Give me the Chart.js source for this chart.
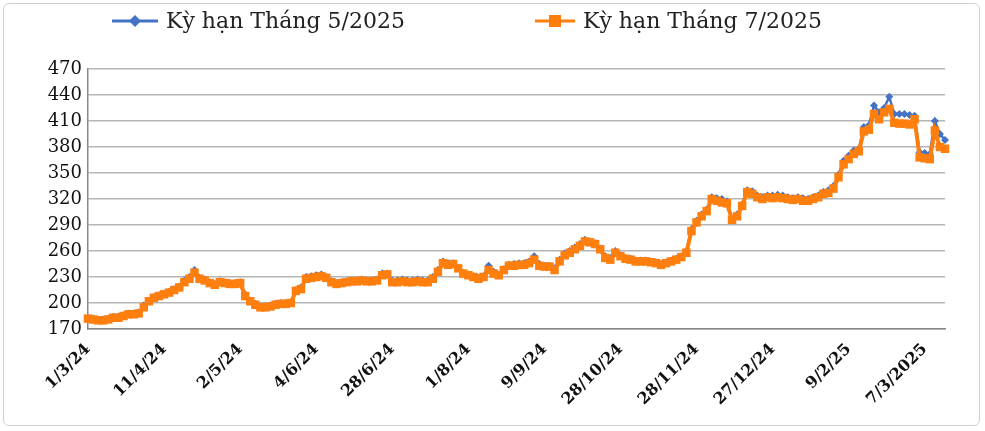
<!DOCTYPE html>
<html>
<head>
<meta charset="utf-8">
<script src="https://cdn.jsdelivr.net/npm/chart.js@4/dist/chart.umd.min.js"></script>
<style>
  body { margin: 0; background: #fff; }
  #wrap { width: 985px; height: 431px; position: relative; }
  #frame { position: absolute; left: 3px; top: 3px; width: 977px; height: 423px; border: 1px solid #d0d0d0; border-radius: 6px; box-sizing: border-box; }
</style>
</head>
<body>
<div id="wrap">
  <div id="frame"></div>
  <canvas id="chart" width="985" height="431"></canvas>
</div>
<script>
const seriesNames = ["Kỳ hạn Tháng 5/2025", "Kỳ hạn Tháng 7/2025"];
const tickLabels = ["1/3/24", "11/4/24", "2/5/24", "4/6/24", "28/6/24", "1/8/24", "9/9/24", "28/10/24", "28/11/24", "27/12/24", "9/2/25", "7/3/2025"];
const tickEvery = 15;

const july = [
  182,181,180,180,181,183,183,185,187,187,188,195,202,206,208,210,212,215,218,224,
  228,235,228,226,223,221,224,223,222,222,223,208,202,198,195,195,196,198,199,199,
  200,214,216,228,229,230,231,229,224,222,223,224,225,225,226,225,225,226,232,233,
  224,224,225,224,224,225,224,224,228,236,246,244,245,240,234,232,230,228,230,238,
  234,232,238,243,243,244,244,246,250,243,242,242,238,248,255,258,262,266,271,270,
  268,262,252,250,258,254,251,250,248,248,248,247,246,244,246,248,250,253,258,283,
  293,300,306,320,318,316,315,296,300,312,328,326,322,320,322,321,322,321,320,319,
  320,318,318,320,322,326,327,332,345,360,366,372,375,398,400,418,412,420,424,408,
  407,407,406,412,368,367,366,399,380,378
];
const may = [
  183,182,181,181,182,184,184,186,188,188,189,197,203,207,209,211,213,216,219,226,
  230,238,229,227,224,222,225,224,223,223,224,210,203,199,196,196,197,199,200,200,
  201,215,218,230,231,232,233,230,225,223,224,225,226,226,227,226,226,227,234,234,
  226,226,227,226,226,227,226,226,230,238,248,246,246,241,235,233,231,229,231,243,
  236,233,239,244,245,246,246,248,254,245,243,243,240,250,257,260,264,268,273,271,
  269,263,254,252,260,255,252,251,249,249,249,248,247,245,247,249,251,254,260,285,
  295,302,308,322,321,320,317,297,302,314,330,329,324,322,324,324,325,324,322,321,
  322,321,320,322,324,328,330,335,348,364,370,376,378,403,405,428,420,425,438,418,
  418,418,417,416,374,373,372,410,395,388
];

const categories = july.map((_, i) => {
  const k = i / tickEvery;
  return Number.isInteger(k) && tickLabels[k] ? tickLabels[k] : "";
});

const colors = ["#4472C4", "#FF7F0E"];
const styles = ["rectRot", "rect"];
const serif = "'DejaVu Serif', 'Liberation Serif', serif";

const legendPlugin = {
  id: "lineLegend",
  afterDraw(chart) {
    const ctx = chart.ctx;
    const items = [{ x: 112, w: 46 }, { x: 535, w: 40 }];
    ctx.save();
    items.forEach((it, i) => {
      const y = 21;
      ctx.strokeStyle = colors[i];
      ctx.lineWidth = 3;
      ctx.beginPath();
      ctx.moveTo(it.x, y);
      ctx.lineTo(it.x + it.w, y);
      ctx.stroke();
      ctx.fillStyle = colors[i];
      const cx = it.x + it.w / 2;
      if (i === 0) {
        ctx.beginPath();
        ctx.moveTo(cx, y - 6); ctx.lineTo(cx + 6, y); ctx.lineTo(cx, y + 6); ctx.lineTo(cx - 6, y);
        ctx.closePath(); ctx.fill();
      } else {
        ctx.fillRect(cx - 6, y - 6, 12, 12);
      }
      ctx.fillStyle = "#222";
      ctx.font = "22px " + serif;
      ctx.textBaseline = "middle";
      ctx.fillText(seriesNames[i], it.x + it.w + 8, y + 1);
    });
    ctx.restore();
  }
};

new Chart(document.getElementById("chart"), {
  type: "line",
  data: {
    labels: categories,
    datasets: [
      { label: seriesNames[0], data: may, borderColor: colors[0], backgroundColor: colors[0], order: 2,
        borderWidth: 2.5, pointStyle: styles[0], pointRadius: 4, pointBorderWidth: 0, tension: 0 },
      { label: seriesNames[1], data: july, borderColor: colors[1], backgroundColor: colors[1], order: 1,
        borderWidth: 4, pointStyle: styles[1], pointRadius: 6, pointBorderWidth: 0, tension: 0 }
    ]
  },
  options: {
    responsive: false,
    animation: false,
    layout: { padding: { top: 69, right: 40, left: 4, bottom: 0 } },
    plugins: { legend: { display: false }, tooltip: { enabled: false } },
    scales: {
      x: {
        offset: false,
        grid: { display: false },
        border: { display: true, color: "#888", width: 1.5 },
        ticks: {
          autoSkip: false, minRotation: 45, maxRotation: 45, color: "#111",
          font: { family: serif, size: 16, weight: "bold" },
          callback: (v, i) => categories[i]
        },
        afterFit: s => { s.height = 102; }
      },
      y: {
        min: 170, max: 470,
        ticks: { stepSize: 30, color: "#111", font: { family: serif, size: 18 }, padding: 6 },
        grid: { color: "#b5b5b5", lineWidth: 1.5, drawTicks: false },
        border: { display: true, color: "#888", width: 1.5 },
        afterFit: s => { s.width = 84; }
      }
    }
  },
  plugins: [legendPlugin]
});
</script>
</body>
</html>
